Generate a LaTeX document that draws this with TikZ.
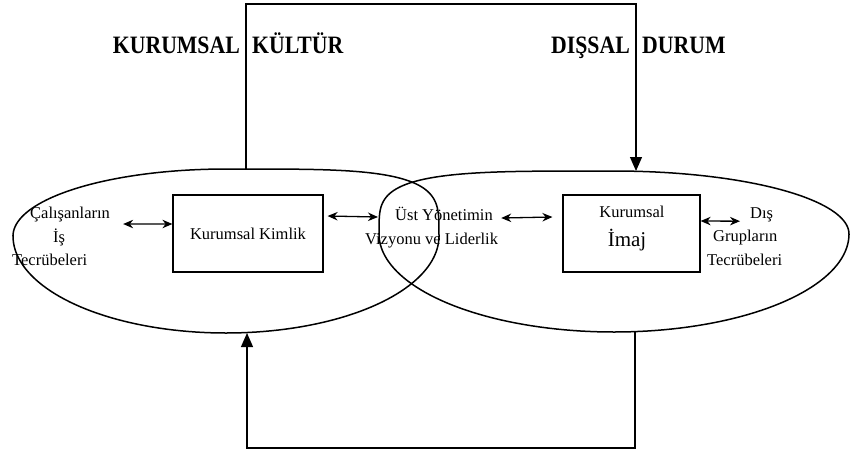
\documentclass[tikz,border=0pt]{standalone}
\usepackage{fontspec}
\setmainfont{Liberation Serif}
\usetikzlibrary{arrows.meta}
\begin{document}
\begin{tikzpicture}[x=1pt,y=-1pt,
  lbl/.style={font=\fontsize{16.5}{23.5}\selectfont, inner sep=0pt, align=left},
  title/.style={font=\fontsize{25}{30}\selectfont\bfseries, inner sep=0pt},
  box/.style={draw, line width=1.2pt, inner sep=0pt, font=\fontsize{16.5}{20}\selectfont},
  dbl/.style={{Stealth[length=10pt,width=8.5pt]}-{Stealth[length=10pt,width=8.5pt]}, line width=1.3pt},
  feed/.style={line width=1.2pt},
  tip/.style={-{Triangle[length=14pt,width=12pt]}},
  blob/.style={line width=1.5pt},
  q/.style={domain=#1, samples=45, variable=\t}
]
\useasboundingbox[fill=white] (0,0) rectangle (850,456);

% left area: centre (226,236), half width 213, top 67, bottom 97;
% the upper right quarter is blunter than the others
\draw[blob]
  plot[q=0:90]    ({226+213*sqrt(abs(cos(\t)))}, {236-67*sqrt(abs(sin(\t)))})
  -- plot[q=90:180]  ({226+213*cos(\t)}, {236-67*sin(\t)})
  -- plot[q=180:270] ({226+213*cos(\t)}, {236-97*sin(\t)})
  -- plot[q=270:360] ({226+213*cos(\t)}, {236-97*sin(\t)}) -- cycle;

% right area: centre (614,234), half width 235, top 63, bottom 98;
% the upper left quarter is blunter than the others
\draw[blob]
  plot[q=0:90]    ({614+235*cos(\t)}, {234-63*sin(\t)})
  -- plot[q=90:180]  ({614-235*sqrt(abs(cos(\t)))}, {234-63*sqrt(abs(sin(\t)))})
  -- plot[q=180:270] ({614+235*cos(\t)}, {234-98*sin(\t)})
  -- plot[q=270:360] ({614+235*cos(\t)}, {234-98*sin(\t)}) -- cycle;

% points where the feedback lines meet the areas
\coordinate (ltop) at (246,169);
\coordinate (rtop) at (636,171);
\coordinate (lbot) at (247,333);
\coordinate (rbot) at (635,332);

% headings
\node[title, anchor=base east] (kurumsal) at (240,53) {\scalebox{0.87}[1]{KURUMSAL}};
\node[title, anchor=base west] (kultur) at (252,53) {\scalebox{0.87}[1]{KÜLTÜR}};
\node[title, anchor=base east] (dissal) at (630,53) {\scalebox{0.87}[1]{DIŞSAL}};
\node[title, anchor=base west] (durum) at (642,53) {\scalebox{0.87}[1]{DURUM}};

% boxes and labels
\node[box, minimum width=150pt, minimum height=77pt] (kimlik) at (248,233.5) {Kurumsal Kimlik};
\node[box, minimum width=137pt, minimum height=77pt] (imaj) at (631.5,233.5) {};
\node[lbl, anchor=base] (imajA) at (632,217) {Kurumsal};
\node[font=\fontsize{21}{25}\selectfont, inner sep=0pt, anchor=base] (imajB) at (627,246) {İmaj};

\node[lbl, anchor=north west] (calis) at (12,207) {\hspace*{18pt}Çalışanların\\\hspace*{41pt}İş\\Tecrübeleri};
\node[lbl, anchor=north west] (ust) at (365,207) {\hspace*{30pt}Üst Yönetimin\\Vizyonu ve Liderlik};
\node[lbl, anchor=north west] (dis) at (707,207) {\hspace*{43pt}Dış\\\hspace*{6pt}Grupların\\Tecrübeleri};

% two-way links
\draw[dbl] ([xshift=13pt,yshift=12.5pt]calis.east) -- ([yshift=9.5pt]kimlik.west);
\draw[dbl] ([xshift=4pt,yshift=17.5pt]kimlik.east) -- ([xshift=13pt,yshift=10.4pt]ust.west);
\draw[dbl] ([xshift=3pt,yshift=9.4pt]ust.east) -- ([xshift=-10pt,yshift=16.5pt]imaj.west);
\draw[dbl] ([yshift=12.5pt]imaj.east) -- ([xshift=33pt,yshift=15pt]dis.west);

% feedback loops
\draw[feed, tip] (ltop) -- ++(0,-165) -| (rtop);
\draw[feed, tip] (rbot) -- ++(0,116) -| (lbot);
\end{tikzpicture}
\end{document}
